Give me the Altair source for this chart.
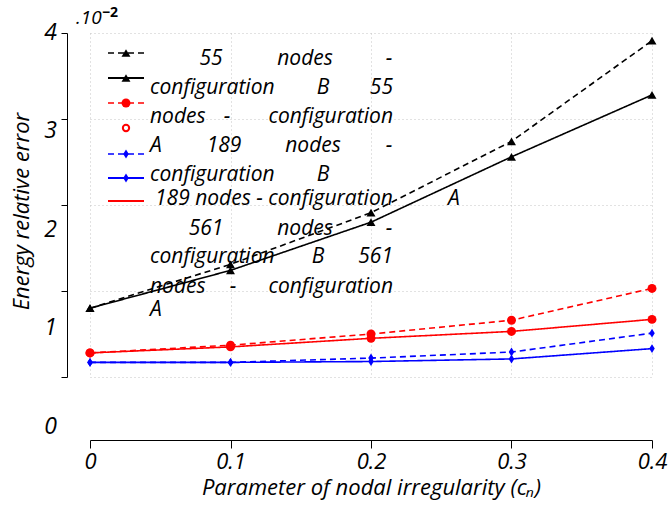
import altair as alt
import pandas as pd

# ---------------- data ----------------
x_vals = [0, 0.1, 0.2, 0.3, 0.4]
err_55_B = [0.80, 1.31, 1.91, 2.74, 3.91]
err_55_A = [0.80, 1.24, 1.80, 2.56, 3.28]
err_189_B = [0.28, 0.37, 0.50, 0.66, 1.03]
err_189_A = [0.28, 0.35, 0.45, 0.53, 0.67]
err_561_B = [0.17, 0.17, 0.22, 0.29, 0.51]
err_561_A = [0.17, 0.17, 0.18, 0.21, 0.33]

series_names = [
    "55 nodes - configuration B",
    "55 nodes - configuration A",
    "189 nodes - configuration B",
    "189 nodes - configuration A",
    "561 nodes - configuration B",
    "561 nodes - configuration A",
]
series_vals = [err_55_B, err_55_A, err_189_B, err_189_A, err_561_B, err_561_A]
series_colors = ["black", "black", "#ff0000", "#ff0000", "#0000ff", "#0000ff"]
series_dash = [[6, 4], [1, 0], [6, 4], [1, 0], [6, 4], [1, 0]]
THIN_DIAMOND = "M0,-1L0.62,0L0,1L-0.62,0Z"
series_shapes = ["triangle-up", "triangle-up", "circle", "circle", THIN_DIAMOND, THIN_DIAMOND]

y_tick_values = [0, 1, 2, 3, 4]
x_tick_values = [0, 0.1, 0.2, 0.3, 0.4]

# legend words (the original legend text is wrapped & justified)
legend_lines = [
    [("55", "center"), ("nodes", "center"), ("-", "center")],
    [("configuration", "left"), ("B", "center"), ("55", "right")],
    [("nodes", "left"), ("-", "center"), ("configuration", "right")],
    [("A", "left"), ("189", "center"), ("nodes", "center"), ("-", "center")],
    [("configuration", "left"), ("B", "center")],
    [("189 nodes - configuration", "left"), ("A", "center")],
    [("561", "center"), ("nodes", "center"), ("-", "center")],
    [("configuration", "left"), ("B", "center"), ("561", "right")],
    [("nodes", "left"), ("-", "center"), ("configuration", "right")],
    [("A", "left")],
]
legend_word_x = [
    [121, 215, 299],
    [60, 233, 303],
    [60, 137, 303],
    [60, 134, 223, 299],
    [60, 233],
    [65, 364],
    [116, 215, 299],
    [60, 228, 303],
    [60, 143, 303],
    [60],
]
legend_line_y = [26, 55, 84, 113, 142, 166, 196, 224, 254, 277]
legend_sym_y = [20, 45, 70, 95, 121, 145, 168]

# ---------------- tables ----------------
rows = []
for name, vals in zip(series_names, series_vals):
    for x, v in zip(x_vals, vals):
        rows.append({"series": name, "x": x, "err": v})
df = pd.DataFrame(rows)

FONT = "Open Sans"
W, H = 562, 344

xscale = alt.Scale(domain=[0, 0.4], nice=False, zero=False)
yscale = alt.Scale(domain=[0, 4], nice=False)

xaxis = alt.Axis(
    values=x_tick_values, format="~g", offset=63, tickSize=8, tickColor="black",
    domainColor="black", labelColor="black", labelFont=FONT, labelFontSize=22,
    labelFontStyle="italic", labelPadding=3, labelFlush=False,
    grid=True, gridColor="#c4c4c4", gridDash=[1, 3],
    title="Parameter of nodal irregularity (cₙ)", titleFont=FONT, titleFontSize=22,
    titleFontStyle="italic", titleFontWeight="normal", titleColor="black", titlePadding=5,
)
yaxis = alt.Axis(
    values=y_tick_values, labels=False, offset=23, tickSize=6, tickColor="black",
    domainColor="black", grid=True, gridColor="#c4c4c4", gridDash=[1, 3],
    title="Energy relative error", titleFont=FONT, titleFontSize=22, titleY=178,
    titleFontStyle="italic", titleFontWeight="normal", titleColor="black", titlePadding=27,
)

x_enc = alt.X("x:Q", scale=xscale, axis=xaxis)
y_enc = alt.Y("err:Q", scale=yscale, axis=yaxis)

color_enc = alt.Color("series:N", scale=alt.Scale(domain=series_names, range=series_colors), legend=None)
dash_enc = alt.StrokeDash("series:N", scale=alt.Scale(domain=series_names, range=series_dash), legend=None)
shape_enc = alt.Shape("series:N", scale=alt.Scale(domain=series_names, range=series_shapes), legend=None)

lines = alt.Chart(df).mark_line(strokeWidth=1.6).encode(
    x=x_enc, y=y_enc, color=color_enc, strokeDash=dash_enc
)
points = alt.Chart(df).mark_point(filled=True, size=80, opacity=1).encode(
    x=x_enc, y=y_enc, color=color_enc, shape=shape_enc
)

# y tick labels (drawn progressively displaced downwards, as in the original)
ylab_df = pd.DataFrame({"err": y_tick_values, "label": [str(v) for v in y_tick_values]})
ylabels = alt.Chart(ylab_df).transform_calculate(
    err="datum.err - (4 - datum.err) * 12.4 / 86"
).mark_text(
    align="right", baseline="middle", font=FONT, fontSize=23, fontStyle="italic", color="black"
).encode(
    y=y_enc, x=alt.value(-33), text="label:N"
)

# exponent note
exp_main = alt.Chart(pd.DataFrame({"t": [".10"]})).mark_text(
    align="left", baseline="middle", font=FONT, fontSize=19, fontStyle="italic", color="black"
).encode(text="t:N", x=alt.value(-14), y=alt.value(-15))
exp_sup = alt.Chart(pd.DataFrame({"t": ["−2"]})).mark_text(
    align="left", baseline="middle", font=FONT, fontSize=14, fontWeight="bold", color="black"
).encode(text="t:N", x=alt.value(12), y=alt.value(-20))

# ---------------- custom legend ----------------
sym_rows = [
    {"py": legend_sym_y[0], "c": "black", "dashed": True, "shp": "triangle-up", "line": True, "mk": "filled"},
    {"py": legend_sym_y[1], "c": "black", "dashed": False, "shp": "triangle-up", "line": True, "mk": "filled"},
    {"py": legend_sym_y[2], "c": "#ff0000", "dashed": True, "shp": "circle", "line": True, "mk": "filled"},
    {"py": legend_sym_y[3], "c": "#ff0000", "dashed": False, "shp": "circle", "line": False, "mk": "open"},
    {"py": legend_sym_y[4], "c": "#0000ff", "dashed": True, "shp": THIN_DIAMOND, "line": True, "mk": "filled"},
    {"py": legend_sym_y[5], "c": "#0000ff", "dashed": False, "shp": THIN_DIAMOND, "line": True, "mk": "filled"},
    {"py": legend_sym_y[6], "c": "#ff0000", "dashed": False, "shp": "circle", "line": True, "mk": "none"},
]
sym_df = pd.DataFrame(sym_rows)

leg_dashed = alt.Chart(sym_df).transform_filter("datum.line && datum.dashed").mark_rule(
    strokeWidth=1.6, strokeDash=[6, 4]
).encode(x=alt.value(18), x2=alt.value(54), y=alt.Y("py:Q", scale=None),
         color=alt.Color("c:N", scale=None))
leg_solid = alt.Chart(sym_df).transform_filter("datum.line && !datum.dashed").mark_rule(
    strokeWidth=1.8
).encode(x=alt.value(18), x2=alt.value(54), y=alt.Y("py:Q", scale=None),
         color=alt.Color("c:N", scale=None))
leg_pts = alt.Chart(sym_df).transform_filter("datum.mk == 'filled'").mark_point(
    filled=True, size=80, opacity=1
).encode(x=alt.value(36), y=alt.Y("py:Q", scale=None),
         color=alt.Color("c:N", scale=None), shape=alt.Shape("shp:N", scale=None))
leg_open = alt.Chart(sym_df).transform_filter("datum.mk == 'open'").mark_point(
    filled=False, size=40, strokeWidth=2, opacity=1
).encode(x=alt.value(36), y=alt.Y("py:Q", scale=None),
         color=alt.Color("c:N", scale=None), shape=alt.Shape("shp:N", scale=None))

word_rows = []
for ly, words, xs in zip(legend_line_y, legend_lines, legend_word_x):
    for (w, al), wx in zip(words, xs):
        word_rows.append({"word": w, "al": al, "tx": wx, "ty": ly})
word_df = pd.DataFrame(word_rows)

def word_layer(al):
    return alt.Chart(word_df).transform_filter(f"datum.al == '{al}'").mark_text(
        align=al, baseline="middle", font=FONT, fontSize=21, fontStyle="italic", color="black"
    ).encode(x=alt.X("tx:Q", scale=None), y=alt.Y("ty:Q", scale=None), text="word:N")

chart = alt.layer(
    lines, points, ylabels, exp_main, exp_sup,
    leg_dashed, leg_solid, leg_pts, leg_open,
    word_layer("left"), word_layer("center"), word_layer("right"),
).properties(
    width=W, height=H,
    padding={"left": 90, "top": 33, "right": 19, "bottom": 131},
    autosize="none",
    background="white",
).configure_view(stroke=None)

chart.save("out.html", embed_options={"renderer": "svg", "actions": False})
